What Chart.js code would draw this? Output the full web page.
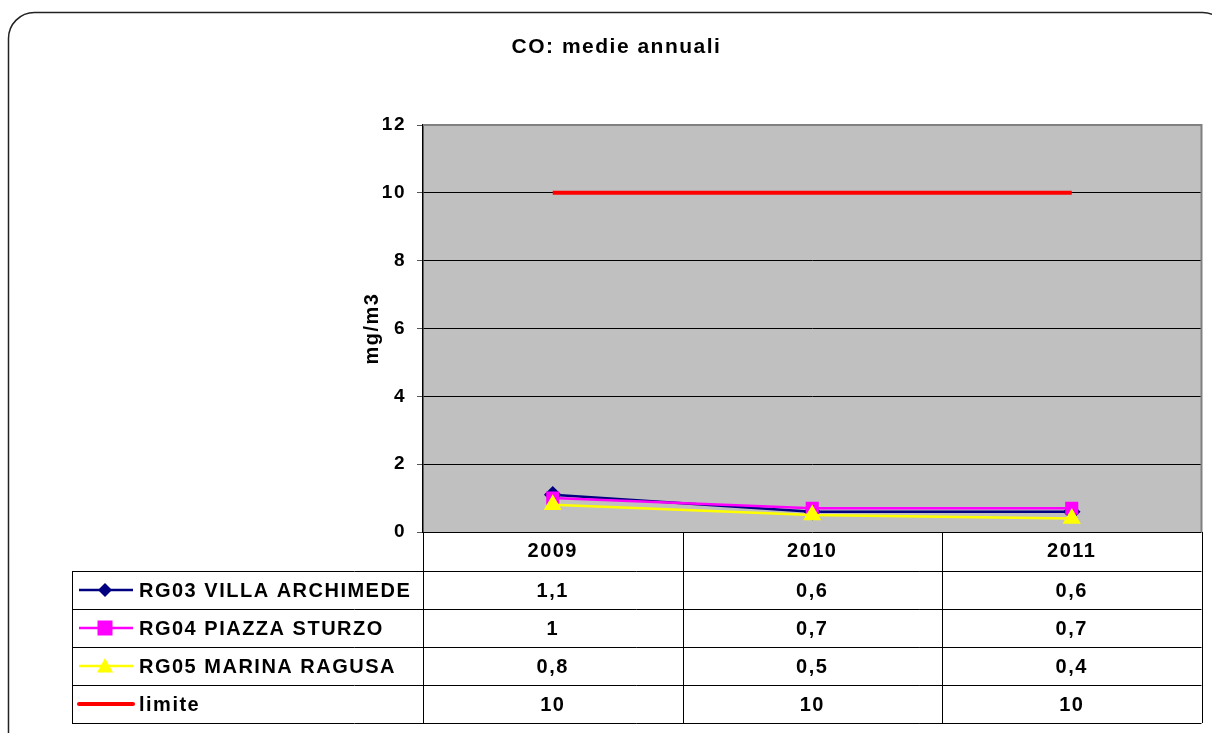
<!DOCTYPE html>
<html>
<head>
<meta charset="utf-8">
<script src="https://cdn.jsdelivr.net/npm/chart.js@4/dist/chart.umd.min.js"></script>
<style>
  html, body { margin: 0; padding: 0; background: #fff; }
  canvas { display: block; }
</style>
</head>
<body>
<canvas id="coChart" width="1212" height="733"></canvas>
<script>
const years = ["2009", "2010", "2011"];
const seriesNames = ["RG03 VILLA ARCHIMEDE", "RG04 PIAZZA STURZO", "RG05 MARINA RAGUSA", "limite"];
const rg03 = [1.1, 0.6, 0.6];
const rg04 = [1, 0.7, 0.7];
const rg05 = [0.8, 0.5, 0.4];
const limite = [10, 10, 10];
const yMin = 0, yMax = 12, yStep = 2;

const FONT = 'Arial, "Liberation Sans", sans-serif';

function drawMarker(ctx, style, x, y, r, color) {
  ctx.save();
  ctx.fillStyle = color;
  ctx.beginPath();
  if (style === "rectRot") {
    ctx.moveTo(x, y - r); ctx.lineTo(x + r, y); ctx.lineTo(x, y + r); ctx.lineTo(x - r, y);
  } else if (style === "rect") {
    ctx.rect(x - r, y - r, 2 * r, 2 * r);
  } else if (style === "triangle") {
    ctx.moveTo(x, y - r); ctx.lineTo(x + r, y + r * 0.8); ctx.lineTo(x - r, y + r * 0.8);
  }
  ctx.closePath();
  ctx.fill();
  ctx.restore();
}

// frame + plot background (text in the original is a bit wider, so add spacing)
const backgroundPlugin = {
  id: "background",
  beforeDraw(chart) {
    const { ctx, chartArea: a } = chart;
    ctx.letterSpacing = "1.5px";
    ctx.save();
    ctx.strokeStyle = "#222";
    ctx.lineWidth = 1.5;
    ctx.beginPath();
    ctx.roundRect(8.5, 12.5, 1220, 760, 26);
    ctx.stroke();
    ctx.fillStyle = "#c0c0c0";
    ctx.fillRect(a.left, a.top, a.right - a.left, a.bottom - a.top);
    ctx.restore();
  },
  beforeDatasetsDraw(chart) {
    const { ctx, chartArea: a } = chart;
    ctx.save();
    ctx.strokeStyle = "#808080";
    ctx.lineWidth = 2;
    ctx.beginPath();
    ctx.moveTo(a.left, a.top);
    ctx.lineTo(a.right, a.top);
    ctx.lineTo(a.right, a.bottom);
    ctx.stroke();
    ctx.restore();
  }
};

// data table below the plot
const tablePlugin = {
  id: "dataTable",
  afterDraw(chart) {
    const { ctx, chartArea: a } = chart;
    const x = chart.scales.x;
    const step = (a.right - a.left) / years.length;
    const tableLeft = 72;
    const headerBottom = a.bottom + 39;
    const rowH = 38;
    const rows = chart.data.datasets.length;
    const tableBottom = headerBottom + rows * rowH;

    ctx.save();
    ctx.strokeStyle = "#000";
    ctx.lineWidth = 1;
    for (let i = 0; i <= years.length; i++) {
      const vx = Math.round(a.left + i * step) + 0.5;
      ctx.beginPath();
      ctx.moveTo(vx, a.bottom);
      ctx.lineTo(vx, tableBottom);
      ctx.stroke();
    }
    ctx.beginPath();
    ctx.moveTo(tableLeft + 0.5, headerBottom);
    ctx.lineTo(tableLeft + 0.5, tableBottom);
    ctx.stroke();
    for (let r = 0; r <= rows; r++) {
      const hy = Math.round(headerBottom + r * rowH) + 0.5;
      ctx.beginPath();
      ctx.moveTo(tableLeft, hy);
      ctx.lineTo(a.right, hy);
      ctx.stroke();
    }

    ctx.fillStyle = "#000";
    ctx.font = "bold 20px " + FONT;
    ctx.textBaseline = "middle";
    ctx.textAlign = "center";
    years.forEach((yr, i) => {
      ctx.fillText(yr, x.getPixelForValue(i), a.bottom + 19);
    });

    chart.data.datasets.forEach((ds, r) => {
      const cy = headerBottom + r * rowH + rowH / 2 + 1;
      // legend key
      ctx.save();
      ctx.strokeStyle = ds.borderColor;
      ctx.lineWidth = ds.borderWidth;
      ctx.lineCap = ds.pointRadius ? "butt" : "round";
      ctx.beginPath();
      ctx.moveTo(79, cy - 1);
      ctx.lineTo(133, cy - 1);
      ctx.stroke();
      ctx.restore();
      if (ds.pointRadius) {
        drawMarker(ctx, ds.pointStyle, 105, cy - 1, ds.pointRadius, ds.pointBackgroundColor);
      }
      ctx.textAlign = "left";
      ctx.fillText(ds.label, 139, cy);
      ctx.textAlign = "center";
      ds.data.forEach((v, i) => {
        ctx.fillText(String(v).replace(".", ","), x.getPixelForValue(i), cy);
      });
    });
    ctx.restore();
  }
};

const ctx = document.getElementById("coChart").getContext("2d");
const coChart = new Chart(ctx, {
  type: "line",
  data: {
    labels: years,
    datasets: [
      {
        label: seriesNames[0],
        data: rg03,
        borderColor: "#000080",
        pointBackgroundColor: "#000080",
        pointBorderColor: "#000080",
        pointStyle: "rectRot",
        pointRadius: 7,
        borderWidth: 2.5,
        order: 4,
      },
      {
        label: seriesNames[1],
        data: rg04,
        borderColor: "#ff00ff",
        pointBackgroundColor: "#ff00ff",
        pointBorderColor: "#ff00ff",
        pointStyle: "rect",
        pointRadius: 7.5,
        borderWidth: 2.5,
        order: 3,
      },
      {
        label: seriesNames[2],
        data: rg05,
        borderColor: "#ffff00",
        pointBackgroundColor: "#ffff00",
        pointBorderColor: "#ffff00",
        pointStyle: "triangle",
        pointRadius: 8,
        borderWidth: 2.5,
        order: 2,
      },
      {
        label: seriesNames[3],
        data: limite,
        borderColor: "#ff0000",
        pointRadius: 0,
        borderWidth: 4,
        order: 1,
      },
    ],
  },
  options: {
    responsive: false,
    animation: false,
    layout: {
      padding: { left: 30, right: 9, top: 0, bottom: 201 },
    },
    plugins: {
      legend: { display: false },
      tooltip: { enabled: false },
      title: {
        display: true,
        text: "CO: medie annuali",
        color: "#000",
        font: { family: FONT, size: 21, weight: "bold" },
        padding: { top: 34.5, bottom: 65.3 },
      },
    },
    scales: {
      x: {
        type: "category",
        offset: true,
        display: false,
      },
      y: {
        min: yMin,
        max: yMax,
        ticks: {
          stepSize: yStep,
          color: "#000",
          padding: 11,
          font: { family: FONT, size: 19, weight: "bold" },
        },
        grid: {
          color: "#000",
          lineWidth: 1,
          tickLength: 6,
          tickColor: "#555",
        },
        border: { display: true, color: "#000", width: 1.5 },
        title: {
          display: true,
          text: "mg/m3",
          color: "#000",
          font: { family: FONT, size: 20, weight: "bold" },
          padding: { top: 330, bottom: 4 },
        },
        afterFit(scale) {
          scale.width = 393;
        },
      },
    },
  },
  plugins: [backgroundPlugin, tablePlugin],
});
</script>
</body>
</html>
